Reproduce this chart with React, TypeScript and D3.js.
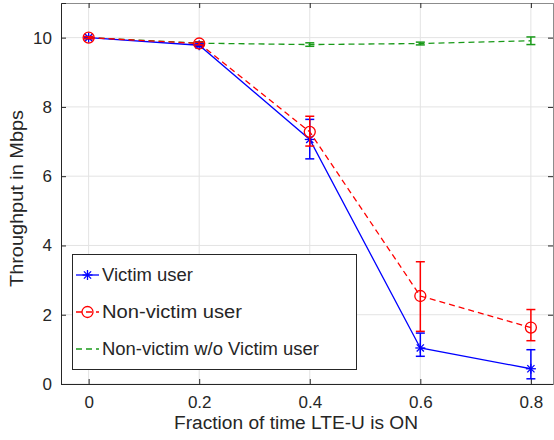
import { useEffect, useRef } from 'react';
import * as d3 from 'd3';

const fractions = [0, 0.2, 0.4, 0.6, 0.8];
const xTicks = [0, 0.2, 0.4, 0.6, 0.8];
const yTicks = [0, 2, 4, 6, 8, 10];

const victim = [10.0, 9.78, 7.06, 1.04, 0.44];
const victimLo = [9.97, 9.74, 6.5, 0.8, 0.15];
const victimHi = [10.03, 9.82, 7.64, 1.47, 0.99];

const nonVictim = [10.0, 9.83, 7.28, 2.54, 1.63];
const nonVictimLo = [9.97, 9.79, 6.87, 1.52, 1.25];
const nonVictimHi = [10.03, 9.87, 7.73, 3.53, 2.15];

const alone = [10.0, 9.84, 9.8, 9.83, 9.91];
const aloneLo = [9.98, 9.8, 9.75, 9.79, 9.8];
const aloneHi = [10.02, 9.88, 9.85, 9.87, 10.02];

const seriesNames = ['Victim user', 'Non-victim user', 'Non-victim w/o Victim user'];

export default function App() {
  const svgRef = useRef<SVGSVGElement>(null);

  useEffect(() => {
    if (!svgRef.current) return;
    const svg = d3.select(svgRef.current);
    svg.selectAll('*').remove();

    const width = 554;
    const height = 440;
    const margin = { top: 3, right: 1, bottom: 56, left: 61 };
    const innerWidth = width - margin.left - margin.right;
    const innerHeight = height - margin.top - margin.bottom;
    const font = 'Liberation Sans, Arial, Helvetica, sans-serif';
    const textColor = '#262626';

    const x = d3.scaleLinear().domain([-0.05, 0.84]).range([0, innerWidth]);
    const y = d3.scaleLinear().domain([0, 11]).range([innerHeight, 0]);

    const g = svg.append('g').attr('transform', `translate(${margin.left},${margin.top})`);

    // grid
    g.selectAll('.gx')
      .data(xTicks)
      .enter()
      .append('line')
      .attr('x1', d => x(d))
      .attr('x2', d => x(d))
      .attr('y1', 0)
      .attr('y2', innerHeight)
      .attr('stroke', '#e3e3e3')
      .attr('stroke-width', 1);
    g.selectAll('.gy')
      .data(yTicks)
      .enter()
      .append('line')
      .attr('x1', 0)
      .attr('x2', innerWidth)
      .attr('y1', d => y(d))
      .attr('y2', d => y(d))
      .attr('stroke', '#e3e3e3')
      .attr('stroke-width', 1);

    // axes (ticks inward)
    const axisColor = '#262626';
    const bottom = g.append('g').attr('transform', `translate(0,${innerHeight})`)
      .call(d3.axisBottom(x).tickValues(xTicks).tickSize(-5).tickPadding(12).tickFormat(d => String(d)));
    const top = g.append('g').call(d3.axisTop(x).tickValues(xTicks).tickSize(-5).tickFormat(() => ''));
    const left = g.append('g')
      .call(d3.axisLeft(y).tickValues(yTicks).tickSize(-5).tickPadding(9).tickFormat(d => String(d)));
    const right = g.append('g').attr('transform', `translate(${innerWidth},0)`)
      .call(d3.axisRight(y).tickValues(yTicks).tickSize(-5).tickFormat(() => ''));
    [bottom, top, left, right].forEach(a => {
      a.selectAll('path').attr('stroke', axisColor).attr('stroke-width', 1);
      a.selectAll('line').attr('stroke', axisColor).attr('stroke-width', 1);
      a.selectAll('text').attr('fill', textColor).style('font-family', font).style('font-size', '17px');
    });
    top.select('.domain').attr('stroke', '#8c8c8c');
    right.select('.domain').attr('stroke', '#8c8c8c');

    const line = d3.line<number>().x((_, i) => x(fractions[i])).y(d => y(d));

    const drawErrors = (vals: number[], lo: number[], hi: number[], color: string, w: number) => {
      const eg = g.append('g').attr('stroke', color).attr('stroke-width', 1.5).attr('fill', 'none');
      vals.forEach((_, i) => {
        const cx = x(fractions[i]);
        eg.append('line').attr('x1', cx).attr('x2', cx).attr('y1', y(lo[i])).attr('y2', y(hi[i]));
        eg.append('line').attr('x1', cx - w).attr('x2', cx + w).attr('y1', y(lo[i])).attr('y2', y(lo[i]));
        eg.append('line').attr('x1', cx - w).attr('x2', cx + w).attr('y1', y(hi[i])).attr('y2', y(hi[i]));
      });
    };

    const star = (sel: d3.Selection<SVGGElement, unknown, null, undefined>, cx: number, cy: number, color: string, r: number) => {
      const s = sel.append('g').attr('stroke', color).attr('stroke-width', 1.3);
      s.append('line').attr('x1', cx - r).attr('x2', cx + r).attr('y1', cy).attr('y2', cy);
      s.append('line').attr('x1', cx).attr('x2', cx).attr('y1', cy - r).attr('y2', cy + r);
      const k = r * 0.72;
      s.append('line').attr('x1', cx - k).attr('x2', cx + k).attr('y1', cy - k).attr('y2', cy + k);
      s.append('line').attr('x1', cx - k).attr('x2', cx + k).attr('y1', cy + k).attr('y2', cy - k);
    };

    // green: non-victim alone
    g.append('path').datum(alone).attr('d', line).attr('fill', 'none')
      .attr('stroke', '#1a9a1a').attr('stroke-width', 1.3).attr('stroke-dasharray', '6,4');
    drawErrors(alone, aloneLo, aloneHi, '#1a9a1a', 4.5);

    // blue: victim
    g.append('path').datum(victim).attr('d', line).attr('fill', 'none')
      .attr('stroke', '#0000ff').attr('stroke-width', 1.3);
    drawErrors(victim, victimLo, victimHi, '#0000ff', 4.5);
    const bm = g.append('g');
    victim.forEach((v, i) => star(bm, x(fractions[i]), y(v), '#0000ff', 5));

    // red: non-victim
    g.append('path').datum(nonVictim).attr('d', line).attr('fill', 'none')
      .attr('stroke', '#ff0000').attr('stroke-width', 1.3).attr('stroke-dasharray', '6,4');
    drawErrors(nonVictim, nonVictimLo, nonVictimHi, '#ff0000', 4.5);
    g.selectAll('.rc')
      .data(nonVictim)
      .enter()
      .append('circle')
      .attr('cx', (_, i) => x(fractions[i]))
      .attr('cy', d => y(d))
      .attr('r', 5.5)
      .attr('fill', 'none')
      .attr('stroke', '#ff0000')
      .attr('stroke-width', 1.3);

    // legend
    const lg = svg.append('g');
    lg.append('rect').attr('x', 72.5).attr('y', 254.5).attr('width', 284).attr('height', 115)
      .attr('fill', '#ffffff').attr('stroke', '#262626').attr('stroke-width', 1);
    const rowsY = [275, 312, 349];
    const colors = ['#0000ff', '#ff0000', '#1a9a1a'];
    const textLens = [91, 140, 217];
    seriesNames.forEach((name, i) => {
      const ly = rowsY[i];
      const ln = lg.append('line').attr('x1', 76).attr('x2', 99).attr('y1', ly).attr('y2', ly)
        .attr('stroke', colors[i]).attr('stroke-width', 1.3);
      if (i > 0) ln.attr('stroke-dasharray', '6,4');
      if (i === 0) star(lg, 87.5, ly, colors[i], 5);
      if (i === 1) lg.append('circle').attr('cx', 87.5).attr('cy', ly).attr('r', 5.5)
        .attr('fill', 'none').attr('stroke', colors[i]).attr('stroke-width', 1.3);
      lg.append('text').attr('x', 102).attr('y', ly).attr('dy', '0.35em')
        .attr('textLength', textLens[i]).attr('lengthAdjust', 'spacingAndGlyphs')
        .attr('fill', textColor).style('font-family', font).style('font-size', '17.5px').text(name);
    });

    // axis labels
    svg.append('text').attr('x', 174).attr('y', 429)
      .attr('textLength', 244).attr('lengthAdjust', 'spacingAndGlyphs').attr('fill', textColor)
      .style('font-family', font).style('font-size', '18px').text('Fraction of time LTE-U is ON');
    svg.append('text').attr('transform', `translate(23,287) rotate(-90)`)
      .attr('textLength', 177).attr('lengthAdjust', 'spacingAndGlyphs').attr('fill', textColor)
      .style('font-family', font).style('font-size', '18px').text('Throughput in Mbps');
  }, []);

  return (
    <svg ref={svgRef} width={554} height={440}
      style={{ position: 'absolute', left: 0, top: 0, background: '#ffffff' }} />
  );
}
